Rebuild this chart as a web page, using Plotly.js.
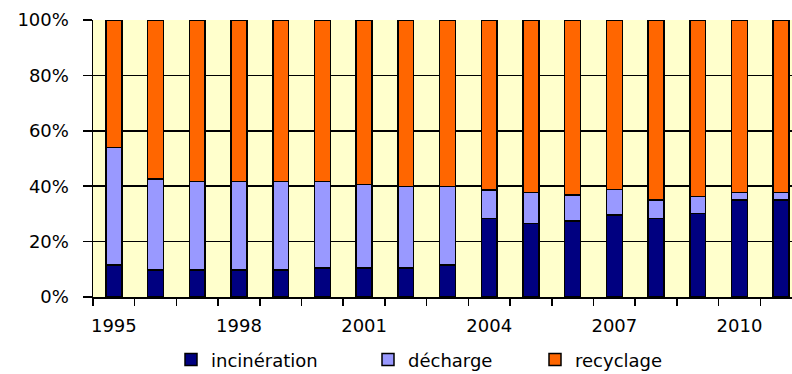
<!DOCTYPE html>
<html>
<head>
<meta charset="utf-8">
<script src="https://cdn.plot.ly/plotly-3.0.1.min.js"></script>
<style>html,body{margin:0;padding:0;background:#fff;}#chart{width:792px;height:374px;}</style>
</head>
<body>
<div id="chart"></div>
<script>
const years = [1995,1996,1997,1998,1999,2000,2001,2002,2003,2004,2005,2006,2007,2008,2009,2010,2011];
const incineration = [11.5, 9.7, 9.7, 9.7, 9.7, 10.5, 10.5, 10.5, 11.5, 28.4, 26.6, 27.4, 29.6, 28.4, 30.2, 35.0, 35.0];
const decharge = [42.5, 32.9, 32.0, 32.0, 32.0, 31.2, 30.2, 29.4, 28.4, 10.2, 11.2, 9.4, 9.3, 6.6, 6.0, 2.7, 2.7];
const recyclage = [46.0, 57.4, 58.3, 58.3, 58.3, 58.3, 59.3, 60.1, 60.1, 61.4, 62.2, 63.2, 61.1, 65.0, 63.8, 62.3, 62.3];
const labelYears = [1995, 1998, 2001, 2004, 2007, 2010];
const seriesNames = ['incinération', 'décharge', 'recyclage'];
const colors = ['#000080', '#9999FF', '#FF6600'];

const FONT = 'DejaVu Sans, Liberation Sans, Arial, sans-serif';
const values = [incineration, decharge, recyclage];
const legends = ['legend', 'legend2', 'legend3'];
const traces = values.map((v, i) => ({
  type: 'bar', x: years, y: v, name: seriesNames[i], legend: legends[i],
  width: 0.38,
  marker: {color: colors[i], line: {color: '#000', width: 1.5}},
  hoverinfo: 'skip'
}));

const legBase = {orientation: 'h', yanchor: 'middle', xanchor: 'left', y: -0.227,
  font: {family: FONT, size: 18, color: '#000'}, bgcolor: 'rgba(0,0,0,0)'};
const layout = {
  width: 792, height: 374,
  margin: {l: 93, r: 0, t: 20, b: 77, autoexpand: false},
  paper_bgcolor: '#fff', plot_bgcolor: '#FFFFCC',
  barmode: 'stack',
  showlegend: true,
  legend: Object.assign({}, legBase, {x: (171 - 93) / 699}),
  legend2: Object.assign({}, legBase, {x: (368 - 93) / 699}),
  legend3: Object.assign({}, legBase, {x: (535 - 93) / 699}),
  xaxis: {
    type: 'linear', range: [1994.5, 2011.26], tickmode: 'array', tickvals: labelYears,
    ticktext: labelYears.map(String), ticks: '', showgrid: false, zeroline: false,
    showline: true, linecolor: '#000', linewidth: 1.5, automargin: false,
    tickfont: {family: FONT, size: 18, color: '#000'}, ticklabelstandoff: 12,
    minor: {ticks: 'outside', ticklen: 7, tickwidth: 1.5, tickcolor: '#000', tick0: 1994.5, dtick: 1, showgrid: false}
  },
  yaxis: {
    range: [0, 100], tickmode: 'linear', tick0: 0, dtick: 20, ticksuffix: '%',
    ticks: 'outside', ticklen: 9, tickwidth: 1.5, tickcolor: '#000', automargin: false,
    showgrid: true, gridcolor: '#000', gridwidth: 1.5, zeroline: false,
    showline: true, linecolor: '#000', linewidth: 1.5,
    tickfont: {family: FONT, size: 18, color: '#000'}, ticklabelstandoff: 10
  }
};
Plotly.newPlot('chart', traces, layout, {staticPlot: true, displayModeBar: false});
</script>
</body>
</html>
